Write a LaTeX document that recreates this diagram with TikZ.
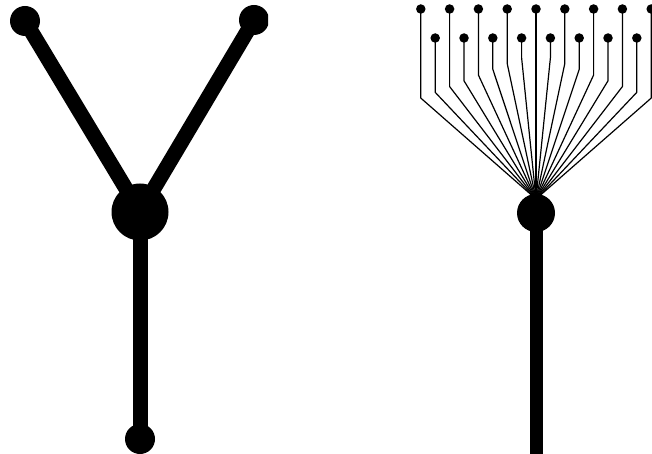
\documentclass[tikz,border=0pt]{standalone}
\begin{document}
\begin{tikzpicture}[x=1pt,y=-1pt,
  bigdot/.style={circle,fill=black,inner sep=0pt,minimum size=30pt},
  arm/.style={line width=15pt,black},
  smallhub/.style={circle,fill=black,inner sep=0pt,minimum size=38pt},
  stem/.style={line width=13pt,black},
  pinhead/.style={circle,fill=black,inner sep=0pt,minimum size=9.5pt},
  wire/.style={line width=1.2pt,black,line join=round}]
\useasboundingbox (0,0) rectangle (652,454);
% left figure
\begin{scope}
\clip (0,0) rectangle (268,454);
\coordinate (tlc) at (25,21);
\coordinate (trc) at (254,20);
\coordinate (hc) at (140,212);
\coordinate (bc) at (140,439);
\draw[arm] (tlc) -- (hc);
\draw[arm] (trc) -- (hc);
\draw[arm] (hc) -- (bc);
\node[bigdot] (tl) at (tlc) {};
\node[bigdot] (tr) at (trc) {};
\node[circle,fill=black,inner sep=0pt,minimum size=57pt] (h) at (hc) {};
\node[bigdot] (b) at (bc) {};
\end{scope}
% right figure
\coordinate (F) at (536,199);
\coordinate (S) at (536,460);
\node[smallhub] (H) at (536,213) {};
\draw[stem] (H.center) -- (S);
\foreach \i [count=\n] in {-8,...,8} {
  \pgfmathsetmacro\xx{536+14.4*\i}
  \pgfmathsetmacro\yy{mod(abs(\i),2)==1 ? 38 : 9}
  \pgfmathsetmacro\by{52+0.4*abs(14.4*\i)}
  \node[pinhead] (p\n) at (\xx,\yy) {};
  \coordinate (k\n) at (\xx,\by);
  \draw[wire] (p\n.center) -- (k\n) -- (F);
}
\end{tikzpicture}
\end{document}
